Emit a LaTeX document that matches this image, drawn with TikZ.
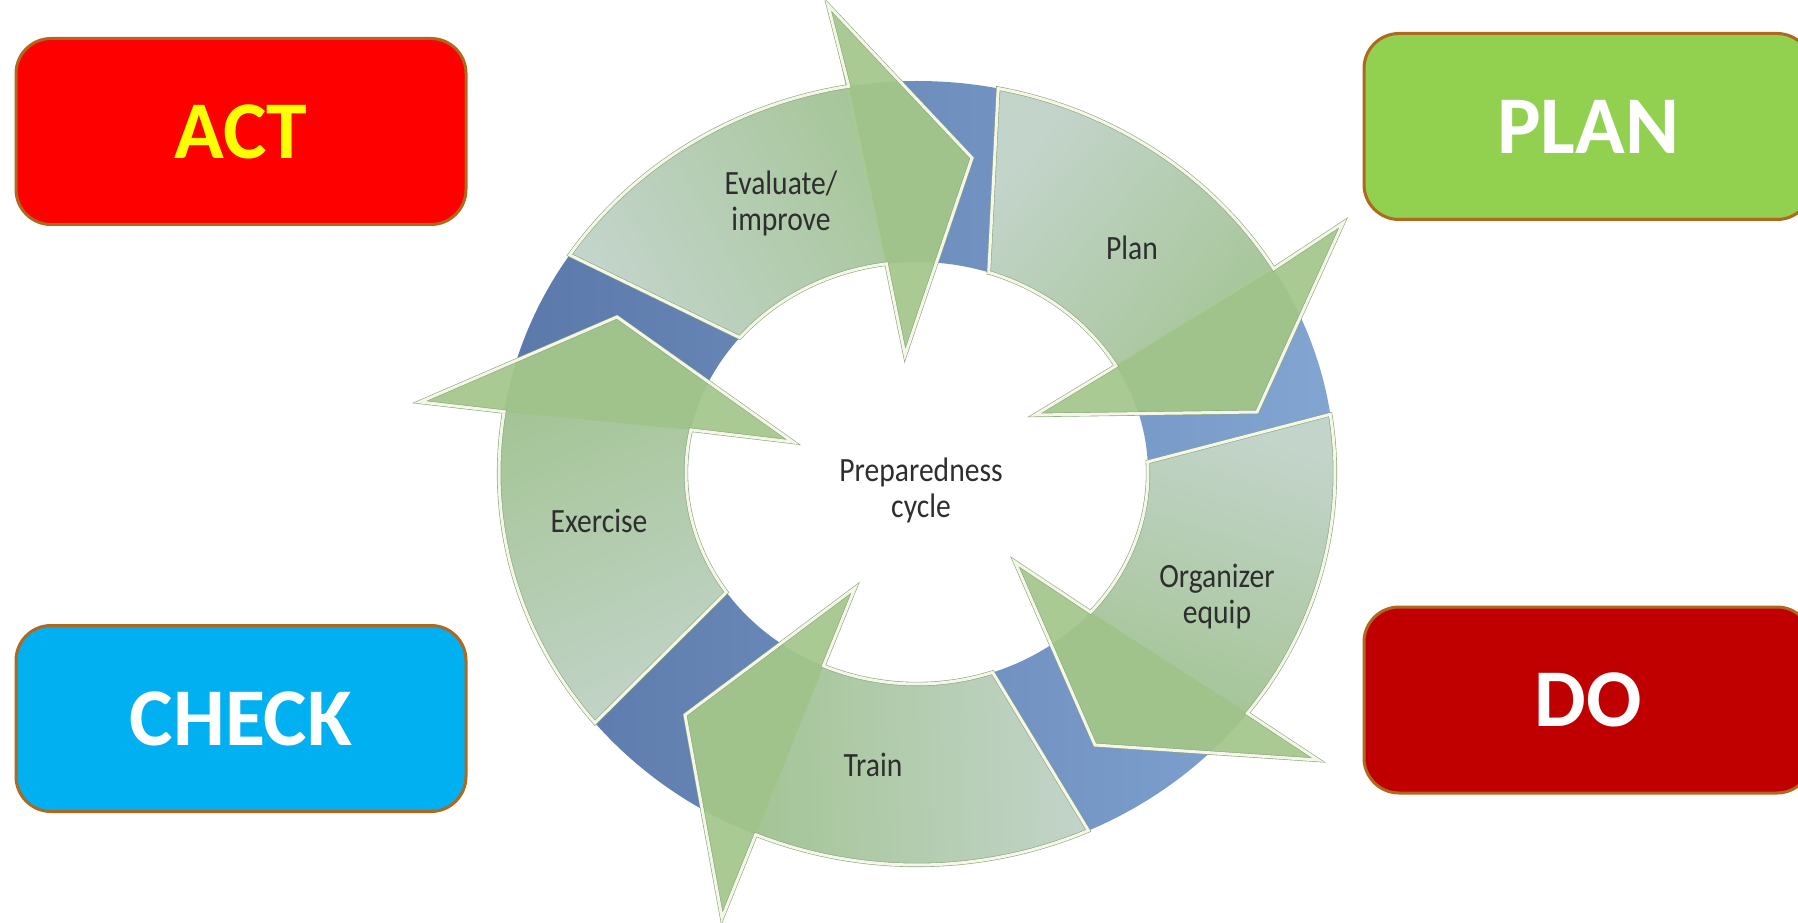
\documentclass[tikz,border=0pt]{standalone}
\usepackage{fontspec}
\setmainfont{Carlito}
\newfontfamily\cyclefont[FakeStretch=0.87]{Carlito}
\definecolor{ringdark}{HTML}{5A78A9}
\definecolor{ringlight}{HTML}{82A5D2}
\definecolor{arrlight}{HTML}{C3D4CA}
\definecolor{arrdark}{HTML}{9EC28C}
\definecolor{headgreen}{HTML}{AACA93}
\definecolor{overgreen}{HTML}{98BD85}
\definecolor{edgegreen}{HTML}{8CA67E}
\definecolor{edgelight}{HTML}{F4F7E8}
\definecolor{boxedge}{HTML}{B0671E}
\definecolor{actred}{HTML}{FF0000}
\definecolor{actyellow}{HTML}{FFFF00}
\definecolor{plangreen}{HTML}{92D050}
\definecolor{checkblue}{HTML}{00B0F0}
\definecolor{dored}{HTML}{C00000}
\definecolor{labeltext}{HTML}{2E2E2E}
\begin{document}
\begin{tikzpicture}[x=0.5pt,y=0.5pt,
  pdcabox/.style={rounded corners=17.5pt, draw=boxedge, line width=1.5pt,
    minimum width=225pt, minimum height=93pt, inner sep=0pt,
    font=\fontsize{41}{49}\selectfont\bfseries},
  cyclelabel/.style={font=\cyclefont\fontsize{17}{18}\selectfont,
    text=labeltext, align=center, inner sep=0pt},
  arrowedge/.style={draw=edgegreen, line width=0.3pt, double=edgelight,
    double distance=1.5pt, line join=miter}
]
\useasboundingbox (0,0) rectangle (1798,922);
\clip (0,0) rectangle (1798,922);

% PDCA boxes
\node[pdcabox, fill=actred, text=actyellow] (act) at (241,790.5) {ACT};
\node[pdcabox, fill=plangreen, text=white, minimum width=224pt] (plan) at (1588,795.5) {PLAN};
\node[pdcabox, fill=checkblue, text=white] (check) at (241,203.5) {CHECK};
\node[pdcabox, fill=dored, text=white, minimum width=224pt] (do) at (1588,222) {DO};

% blue ring
\path[left color=ringdark, right color=ringlight, even odd rule]
  (917,449) ellipse [x radius=209pt, y radius=196pt]
  (917,449) ellipse [x radius=115.5pt, y radius=105.5pt];

% curved block arrows
\foreach \aSo/\aOc/\aPo/\aSi/\aIc/\aPi/\Obx/\Oby/\Tx/\Ty/\Ibx/\Iby/\sh in {
 78.8/31.4/23.7/71.9/30.5/16.4/1343/699/1257/510/1035/507/49.4,
 8.6/-37.8/-45.6/3.0/-41.3/-54.5/1318/162/1095/177/1015/360/-18.3,
 -65.8/-112.7/-121.0/-70.9/-113.9/-126.2/722/4/685/207/855/334/-88,
 -140.4/-189.0/-196.8/-145.6/-191.8/-205.6/420/520/617/605/793/480/-156.5,
 146.2/99.4/92.5/140.1/97.6/85.3/828/917/972/764/905/567/119.4}
{
  \path[top color=arrlight, bottom color=arrdark, shading angle=\sh]
    ({917+231*cos(\aSi)},{449+211*sin(\aSi)})
    -- plot[domain=\aSo:\aOc, samples=40] ({917+418*cos(\x)},{449+392*sin(\x)})
    -- (\Obx,\Oby) -- (\Tx,\Ty) -- (\Ibx,\Iby)
    -- plot[domain=\aIc:\aSi, samples=40] ({917+231*cos(\x)},{449+211*sin(\x)})
    -- cycle;
  \fill[headgreen] (\Obx,\Oby) -- (\Tx,\Ty) -- (\Ibx,\Iby) -- cycle;
  \fill[overgreen, opacity=0.55]
    plot[domain=\aOc:\aPo, samples=20] ({917+418*cos(\x)},{449+392*sin(\x)})
    -- (\Tx,\Ty)
    -- plot[domain=\aPi:\aIc, samples=20] ({917+231*cos(\x)},{449+211*sin(\x)})
    -- cycle;
  \path[arrowedge]
    ({917+231*cos(\aSi)},{449+211*sin(\aSi)})
    -- plot[domain=\aSo:\aOc, samples=40] ({917+418*cos(\x)},{449+392*sin(\x)})
    -- (\Obx,\Oby) -- (\Tx,\Ty) -- (\Ibx,\Iby)
    -- plot[domain=\aIc:\aSi, samples=40] ({917+231*cos(\x)},{449+211*sin(\x)})
    -- cycle;
}

% labels
\node[cyclelabel] (evaltxt) at (781,719) {Evaluate/\\improve};
\node[cyclelabel] (plantxt) at (1132,674) {Plan};
\node[cyclelabel] (preptxt) at (921,432) {Preparedness\\cycle};
\node[cyclelabel] (exertxt) at (599,401) {Exercise};
\node[cyclelabel] (orgtxt) at (1217,325) {Organizer\\equip};
\node[cyclelabel] (traintxt) at (873,157) {Train};
\end{tikzpicture}
\end{document}
